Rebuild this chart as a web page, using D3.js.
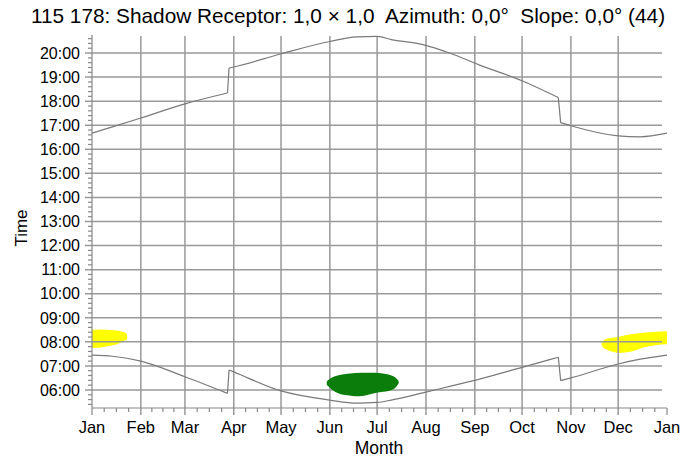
<!DOCTYPE html>
<html>
<head>
<meta charset="utf-8">
<script src="https://cdn.jsdelivr.net/npm/d3@7"></script>
<style>
  body { margin: 0; background: #fff; }
  text { font-family: "Liberation Sans", Arial, sans-serif; }
</style>
</head>
<body>
<svg id="chart" width="696" height="462"></svg>
<script>
// month starts (day of year) and labels
var monthDays = [0, 31, 59, 90, 120, 151, 181, 212, 243, 273, 304, 334, 365];
var monthNames = ["Jan", "Feb", "Mar", "Apr", "May", "Jun", "Jul", "Aug", "Sep", "Oct", "Nov", "Dec", "Jan"];
var hourTicks = [6, 7, 8, 9, 10, 11, 12, 13, 14, 15, 16, 17, 18, 19, 20];

// sunrise / sunset (hours), with DST jumps
var sunDays = [0, 13, 31, 59, 86, 87, 90, 120, 151, 168, 181, 190, 210, 227, 246, 273, 296, 297.5, 304, 334, 348, 365];
var sunrise = [7.45, 7.40, 7.20, 6.55, 5.86, 6.83, 6.75, 5.96, 5.58, 5.45, 5.48, 5.58, 5.88, 6.15, 6.45, 6.94, 7.36, 6.39, 6.50, 7.08, 7.28, 7.45];
var sunset = [16.67, 16.93, 17.30, 17.89, 18.34, 19.38, 19.42, 19.97, 20.48, 20.67, 20.69, 20.56, 20.35, 20.00, 19.50, 18.85, 18.15, 17.11, 16.98, 16.56, 16.52, 16.67];

// shadow periods: day, start and end time
var janDays = [0, 5, 9.5, 13.3, 17, 20, 21.0];
var janTop = [8.42, 8.43, 8.42, 8.40, 8.37, 8.32, 8.28];
var janBot = [7.84, 7.84, 7.90, 7.94, 8.02, 8.12, 8.15];

var decDays = [324.8, 326.5, 333.3, 341.5, 349.8, 358.6, 365];
var decTop = [7.92, 8.04, 8.11, 8.22, 8.29, 8.34, 8.36];
var decBot = [7.88, 7.77, 7.63, 7.67, 7.84, 7.95, 7.98];

var junDays = [150.3, 153.5, 157.4, 163.8, 171.4, 179.6, 187.9, 191.5, 193.4];
var junTop = [6.33, 6.46, 6.54, 6.60, 6.63, 6.63, 6.56, 6.47, 6.34];
var junBot = [6.24, 6.06, 5.92, 5.85, 5.83, 5.96, 6.04, 6.14, 6.30];

var svg = d3.select("#chart");
var mLeft = 92, mRight = 667, mTop = 35, mBottom = 408;

var x = d3.scaleLinear().domain([0, 365]).range([mLeft, mRight]);
var y = d3.scaleLinear().domain([5.25, 20.75]).range([mBottom, mTop]);

svg.append("clipPath").attr("id", "plotclip")
    .append("rect")
    .attr("x", mLeft).attr("y", mTop)
    .attr("width", mRight - mLeft).attr("height", mBottom - mTop);

function zipShadow(days, t0, t1) {
    return days.map(function (d, i) { return {d: d, a: t0[i], b: t1[i]}; });
}
var area = d3.area()
    .x(function (p) { return x(p.d); })
    .y0(function (p) { return y(p.b); })
    .y1(function (p) { return y(p.a); })
    .curve(d3.curveCatmullRom);

function drawShadow(days, t0, t1, colour) {
    svg.append("path").datum(zipShadow(days, t0, t1))
        .attr("clip-path", "url(#plotclip)")
        .attr("d", area)
        .attr("fill", colour)
        .attr("stroke", colour)
        .attr("stroke-width", 4)
        .attr("stroke-linejoin", "round");
}

// yellow shadows under grid
drawShadow(janDays, janTop, janBot, "#ffff00");
drawShadow(decDays, decTop, decBot, "#ffff00");

// grid
var grid = svg.append("g").attr("stroke", "#999").attr("stroke-width", 1.5);
grid.selectAll("line.h").data(hourTicks).enter().append("line")
    .attr("x1", mLeft - 7).attr("x2", mRight - 5)
    .attr("y1", function (d) { return y(d); })
    .attr("y2", function (d) { return y(d); });
grid.selectAll("line.v").data(monthDays.slice(1, 12)).enter().append("line")
    .attr("y1", mTop + 1).attr("y2", mBottom + 7)
    .attr("x1", function (d) { return x(d); })
    .attr("x2", function (d) { return x(d); });

// axes
var axisG = svg.append("g").attr("stroke", "#888").attr("stroke-width", 1.2);
axisG.append("line").attr("x1", mLeft).attr("x2", mLeft).attr("y1", mTop).attr("y2", mBottom + 7);
axisG.append("line").attr("x1", mLeft).attr("x2", mRight).attr("y1", mBottom).attr("y2", mBottom);
axisG.append("line").attr("x1", mRight).attr("x2", mRight).attr("y1", mBottom).attr("y2", mBottom + 7);

var minorY = d3.range(5.4, 20.75, 0.2).filter(function (h) {
    return Math.abs(h - Math.round(h)) > 0.05;
});
axisG.selectAll("line.my").data(minorY).enter().append("line")
    .attr("x1", mLeft - 4).attr("x2", mLeft)
    .attr("y1", function (d) { return y(d); })
    .attr("y2", function (d) { return y(d); });

var minorX = [];
for (var i = 0; i < 12; i++) {
    for (var k = 1; k < 4; k++) {
        minorX.push(monthDays[i] + (monthDays[i + 1] - monthDays[i]) * k / 4);
    }
}
axisG.selectAll("line.mx").data(minorX).enter().append("line")
    .attr("y1", mBottom).attr("y2", mBottom + 4)
    .attr("x1", function (d) { return x(d); })
    .attr("x2", function (d) { return x(d); });

// green shadow over grid
drawShadow(junDays, junTop, junBot, "#0a7d0a");

// sunrise and sunset: smooth pieces, straight at the clock changes
var smooth = d3.line()
    .x(function (p) { return x(p.d); })
    .y(function (p) { return y(p.t); })
    .curve(d3.curveMonotoneX);
var straight = d3.line()
    .x(function (p) { return x(p.d); })
    .y(function (p) { return y(p.t); });

[sunrise, sunset].forEach(function (s) {
    var pts = sunDays.map(function (d, i) { return {d: d, t: s[i]}; });
    var pieces = [], cur = [pts[0]];
    for (var j = 1; j < pts.length; j++) {
        if (pts[j].d - pts[j - 1].d <= 1.5) {
            pieces.push({pts: cur, gen: smooth});
            pieces.push({pts: [pts[j - 1], pts[j]], gen: straight});
            cur = [pts[j]];
        } else {
            cur.push(pts[j]);
        }
    }
    pieces.push({pts: cur, gen: smooth});
    pieces.forEach(function (p) {
        svg.append("path")
            .attr("d", p.gen(p.pts))
            .attr("fill", "none")
            .attr("stroke", "#7a7a7a")
            .attr("stroke-width", 1.2);
    });
});

// labels
svg.selectAll("text.yl").data(hourTicks).enter().append("text")
    .attr("x", mLeft - 12)
    .attr("y", function (d) { return y(d); })
    .attr("dy", "0.36em")
    .attr("text-anchor", "end")
    .attr("font-size", 16)
    .text(function (d) { return (d < 10 ? "0" : "") + d + ":00"; });

svg.selectAll("text.xl").data(monthDays).enter().append("text")
    .attr("x", function (d) { return x(d); })
    .attr("y", mBottom + 25)
    .attr("text-anchor", "middle")
    .attr("font-size", 16.5)
    .text(function (d, i) { return monthNames[i]; });

svg.append("text")
    .attr("x", 348).attr("y", 23)
    .attr("text-anchor", "middle")
    .attr("font-size", 20.8)
    .style("white-space", "pre")
    .text("115 178: Shadow Receptor: 1,0 × 1,0  Azimuth: 0,0°  Slope: 0,0° (44)");

svg.append("text")
    .attr("x", 379).attr("y", 454)
    .attr("text-anchor", "middle")
    .attr("font-size", 17.5)
    .text("Month");

svg.append("text")
    .attr("transform", "translate(27,228) rotate(-90)")
    .attr("text-anchor", "middle")
    .attr("font-size", 17)
    .text("Time");
</script>
</body>
</html>
